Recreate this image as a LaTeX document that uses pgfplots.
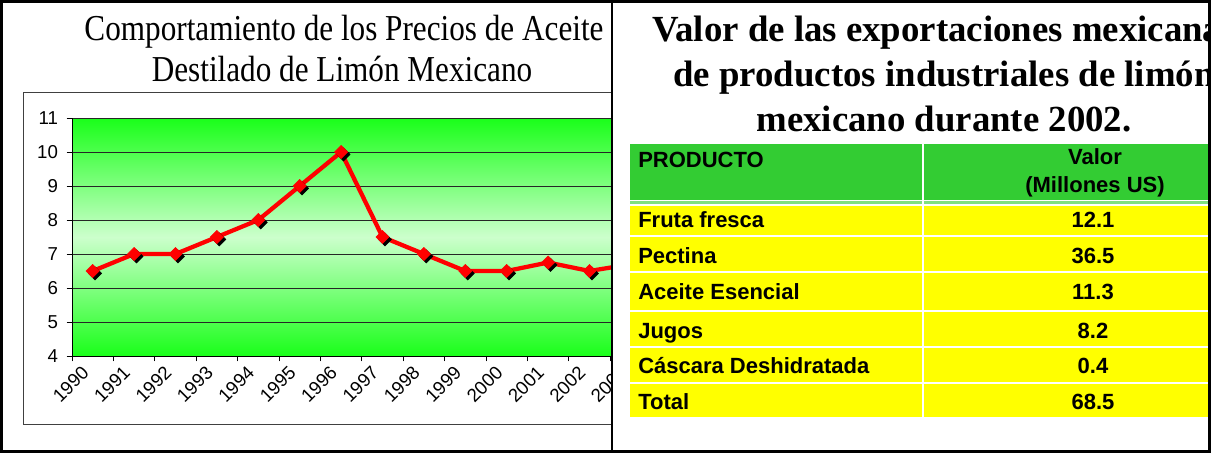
\documentclass[border=0pt]{standalone}
\usepackage{fontspec}
\setmainfont{Liberation Serif}
\setsansfont{Liberation Sans}
\usepackage{pgfplots}
\usepackage{pgfplotstable}
\pgfplotsset{compat=1.18}

\definecolor{plotgreen}{HTML}{1AFF1A}
\definecolor{palegreen}{HTML}{CCFFCC}
\definecolor{headgreen}{HTML}{33CC33}
\definecolor{bandgreen}{HTML}{7FE07F}
\definecolor{rowyellow}{HTML}{FFFF00}

% precio por anio
\pgfplotstableread{
year price
1990 6.5
1991 7
1992 7
1993 7.5
1994 8
1995 9
1996 10
1997 7.5
1998 7
1999 6.5
2000 6.5
2001 6.75
2002 6.5
2003 6.7
}\precios

\newcommand{\tabfont}{\sffamily\bfseries\fontsize{16.5}{19}\selectfont}
\newcommand{\lefttitle}[1]{\scalebox{1}[1.17]{\fontsize{23.4}{28}\selectfont #1}}

\begin{document}
\begin{tikzpicture}
\path[use as bounding box] (0,0) rectangle (908.25pt,-339.75pt);

% ---- left panel: chart
\begin{scope}
\clip (0,0) rectangle (458.25pt,-339.75pt);
\begin{scope}[x=0.75pt,y=-0.75pt]
\draw[black!75, line width=0.75pt] (23,93) rectangle (700,424);
\node[anchor=base, inner sep=0] at (344,41) {\lefttitle{Comportamiento de los Precios de Aceite}};
\node[anchor=base, inner sep=0] at (342,82) {\lefttitle{Destilado de Limón Mexicano}};
\end{scope}
\begin{axis}[
    at={(54pt,-267pt)}, anchor=south west,
    scale only axis,
    width=465.75pt, height=178.5pt,
    xmin=1989.5, xmax=2004.5,
    ymin=4, ymax=11,
    axis lines*=left,
    axis line style={black, line width=0.6pt},
    axis background/.style={top color=plotgreen, bottom color=plotgreen, middle color=palegreen},
    ytick={4,...,11},
    xtick={1990,...,2004},
    xtick style={draw=none},
    extra x ticks={1989.5,1990.5,...,2004.5},
    extra x tick labels={},
    extra x tick style={grid=none, xtick style={draw=black}},
    tick align=outside,
    major tick length=4pt,
    tick style={black, line width=0.6pt},
    ymajorgrids,
    grid style={black!85, line width=0.6pt},
    /pgf/number format/assume math mode=true,
    /pgf/number format/1000 sep={},
    ticklabel style={font=\sffamily\fontsize{14}{16}\selectfont},
    yticklabel style={xshift=-3pt},
    xticklabel style={xshift=-9pt, yshift=-1pt, rotate=45, anchor=north east, inner sep=1pt},
    clip=false,
]
\addplot[red, line width=3.2pt, mark=none] table[x=year, y=price] {\precios};
\addplot[only marks, mark=square*, mark size=3.5pt,
    mark options={black, fill=black, xshift=1.8pt, yshift=-1.8pt, rotate=45}]
    table[x=year, y=price] {\precios};
\addplot[only marks, mark=square*, mark size=3.5pt,
    mark options={red, fill=red, rotate=45}]
    table[x=year, y=price] {\precios};
\end{axis}
\end{scope}

% ---- right panel: table
\begin{scope}[x=0.75pt,y=-0.75pt]
\clip (613,0) rectangle (1211,453);
\fill[headgreen] (630,144) rectangle (1300,200);
\fill[bandgreen] (630,201.3) rectangle (1300,203.7);
\fill[rowyellow] (630,205.5) rectangle (1300,417);
\foreach \yy in {236,272,311,347,383}
  \draw[white, line width=1.1pt] (630,\yy) -- (1300,\yy);
\draw[white, line width=0.8pt] (923,144) -- (923,417);
\node[anchor=base, font=\bfseries\fontsize{27.6}{33}\selectfont] at (944,42) {Valor de las exportaciones mexicanas};
\node[anchor=base, font=\bfseries\fontsize{27.6}{33}\selectfont] at (944,87) {de productos industriales de limón};
\node[anchor=base, font=\bfseries\fontsize{27.6}{33}\selectfont] at (944,132) {mexicano durante 2002.};
\node[anchor=base west, inner sep=0, font=\tabfont] at (638,167) {PRODUCTO};
\node[anchor=base, inner sep=0, font=\tabfont] at (1095,165) {Valor};
\node[anchor=base, inner sep=0, font=\tabfont] at (1095,192) {(Millones US)};
\foreach \lab/\val/\yb in {Fruta fresca/12.1/227, Pectina/36.5/263, Aceite Esencial/11.3/299,
    Jugos/8.2/338, Cáscara Deshidratada/0.4/373, Total/68.5/409} {
  \node[anchor=base west, inner sep=0, font=\tabfont] at (638,\yb) {\lab};
  \node[anchor=base, inner sep=0, font=\tabfont] at (1093,\yb) {\val};
}
\end{scope}

% ---- borders
\begin{scope}[x=0.75pt,y=-0.75pt]
\draw[black, line width=2pt] (1.33,1.33) rectangle (1209.67,451.67);
\draw[black, line width=2.2pt] (612,0) -- (612,453);
\end{scope}
\end{tikzpicture}
\end{document}
